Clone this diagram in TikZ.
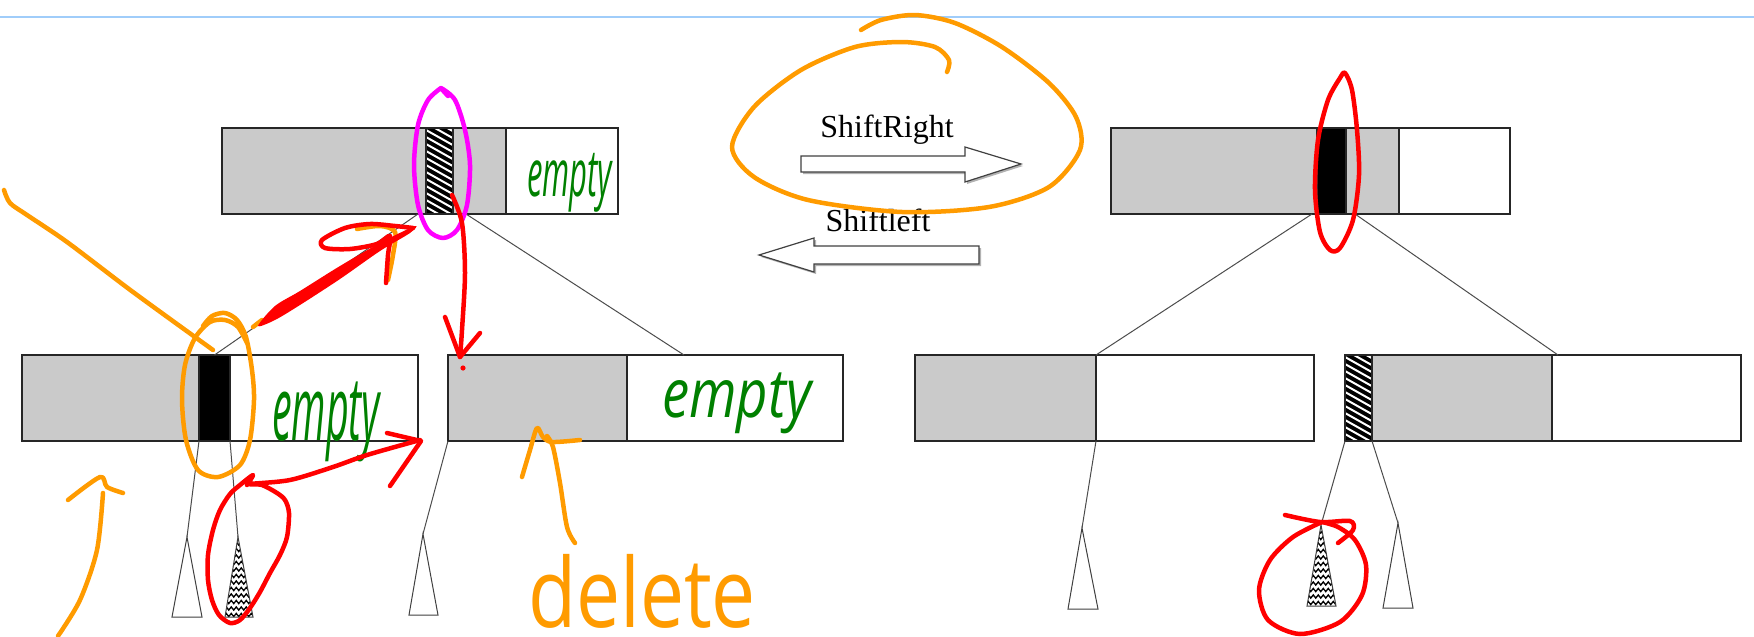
\documentclass[tikz,border=0pt]{standalone}
\usepackage{fontspec}
\usepackage{graphicx}
\usetikzlibrary{decorations.pathmorphing}
\newfontfamily\serifT{Liberation Serif}
\newfontfamily\hand{Open Sans}
\definecolor{boxgray}{RGB}{202,202,202}
\definecolor{inkorange}{RGB}{255,155,0}
\definecolor{inkred}{RGB}{255,0,0}
\definecolor{inkmag}{RGB}{255,0,255}
\definecolor{inkgreen}{RGB}{0,128,0}
\definecolor{rulerblue}{RGB}{160,205,250}
\begin{document}
\begin{tikzpicture}[x=1pt,y=-1pt,
  cell/.style={draw=black!85, line width=1.4pt, inner sep=0pt, outer sep=0pt, anchor=north west, minimum height=86pt},
  gcell/.style={cell, fill=boxgray},
  wcell/.style={cell, fill=white},
  kcell/.style={cell, fill=black},
  hcell/.style={cell, fill=black, path picture={
      \foreach \k in {0,...,22}{\draw[white, line width=2pt] ([yshift={40pt-\k*7pt}]path picture bounding box.north west) -- ++(32pt,-18pt);}}},
  edge/.style={draw=black!70, line width=1pt},
  tri/.style={draw=black!75, line width=1pt, fill=white},
  htri/.style={tri, path picture={
      \foreach \k in {0,...,13}{\draw[black, line width=1.3pt, decorate, decoration={zigzag, segment length=5pt, amplitude=1.6pt}] ([yshift={-\k*6.5pt}]path picture bounding box.north west) -- ++(40pt,0pt);}}},
  blockarrow/.style={fill=white, draw=black!75, line width=1.2pt},
  ink/.style={line width=4.5pt, line cap=round, line join=round},
  handtext/.style={inner sep=0pt, outer sep=0pt, anchor=north west},
  lbl/.style={font=\serifT\fontsize{32}{36}\selectfont, anchor=base, inner sep=0pt}
]
\useasboundingbox (0,0) rectangle (1754,637);
\draw[rulerblue, line width=2pt] (0,17) -- (1754,17);

% ---------- left top node ----------
\node[gcell, minimum width=204pt] (tlA) at (222,128) {};
\node[hcell, minimum width=27pt] (tlB) at (426,128) {};
\node[gcell, minimum width=53pt] (tlC) at (453,128) {};
\node[wcell, minimum width=112pt] (tlD) at (506,128) {};
% ---------- right top node ----------
\node[gcell, minimum width=206pt] (trA) at (1111,128) {};
\node[kcell, minimum width=29pt] (trB) at (1317,128) {};
\node[gcell, minimum width=53pt] (trC) at (1346,128) {};
\node[wcell, minimum width=111pt] (trD) at (1399,128) {};
% ---------- lower nodes ----------
\node[gcell, minimum width=177pt] (b1A) at (22,355) {};
\node[kcell, minimum width=31pt] (b1B) at (199,355) {};
\node[wcell, minimum width=188pt] (b1C) at (230,355) {};
\node[gcell, minimum width=179pt] (b2A) at (448,355) {};
\node[wcell, minimum width=216pt] (b2B) at (627,355) {};
\node[gcell, minimum width=181pt] (b3A) at (915,355) {};
\node[wcell, minimum width=218pt] (b3B) at (1096,355) {};
\node[hcell, minimum width=27pt] (b4A) at (1345,355) {};
\node[gcell, minimum width=180pt] (b4B) at (1372,355) {};
\node[wcell, minimum width=189pt] (b4C) at (1552,355) {};

% ---------- tree edges ----------
\draw[edge] ([xshift=-8pt]tlB.south west) -- (b1B.north);
\draw[edge] ([xshift=13pt]tlC.south west) -- ([xshift=57pt]b2B.north west);
\draw[edge] ([xshift=-5pt]trB.south west) -- (b3B.north west);
\draw[edge] ([xshift=9pt]trC.south west) -- ([xshift=6pt]b4C.north west);

% ---------- subtrees ----------
\coordinate (t1a) at (187,537); \coordinate (t1l) at (172,617); \coordinate (t1r) at (202,617);
\coordinate (t2a) at (238,537); \coordinate (t2l) at (225,617); \coordinate (t2r) at (253,617);
\coordinate (t3a) at (423,534); \coordinate (t3l) at (409,615); \coordinate (t3r) at (438,615);
\coordinate (t4a) at (1082,528); \coordinate (t4l) at (1068,609); \coordinate (t4r) at (1098,609);
\coordinate (t5a) at (1321,525); \coordinate (t5l) at (1307,606); \coordinate (t5r) at (1336,606);
\coordinate (t6a) at (1398,523); \coordinate (t6l) at (1383,608); \coordinate (t6r) at (1413,608);
\draw[edge] (b1B.south west) -- (t1a);
\draw[edge] (b1B.south east) -- (t2a);
\draw[edge] (b2A.south west) -- (t3a);
\draw[edge] (b3B.south west) -- (t4a);
\draw[edge] (b4A.south west) -- (t5a);
\draw[edge] (b4A.south east) -- (t6a);
\draw[tri] (t1a) -- (t1l) -- (t1r) -- cycle;
\draw[htri] (t2a) -- (t2l) -- (t2r) -- cycle;
\draw[tri] (t3a) -- (t3l) -- (t3r) -- cycle;
\draw[tri] (t4a) -- (t4l) -- (t4r) -- cycle;
\draw[htri] (t5a) -- (t5l) -- (t5r) -- cycle;
\draw[tri] (t6a) -- (t6l) -- (t6r) -- cycle;

% ---------- shift arrows ----------
\fill[black!30] (803,158) -- (967,158) -- (967,149) -- (1023,166) -- (967,184) -- (967,174) -- (803,174) -- cycle;
\draw[blockarrow] (801,156) -- (965,156) -- (965,147) -- (1021,164) -- (965,182) -- (965,172) -- (801,172) -- cycle;
\fill[black!30] (981,248) -- (816,248) -- (816,240) -- (761,257) -- (816,274) -- (816,266) -- (981,266) -- cycle;
\draw[blockarrow] (979,246) -- (814,246) -- (814,238) -- (759,255) -- (814,272) -- (814,264) -- (979,264) -- cycle;
\node[lbl] (sr) at (887,137) {ShiftRight};
\node[lbl] (sl) at (878,231) {Shiftleft};

% ---------- handwritten texts ----------
\node[handtext, text=inkgreen] (e1) at (527,153) {\resizebox*{85pt}{59pt}{\hand\itshape empty}};
\node[handtext, text=inkgreen] (e2) at (272,382) {\resizebox*{108pt}{80pt}{\hand\itshape empty}};
\node[handtext, text=inkgreen] (e3) at (662,373) {\resizebox*{149pt}{61pt}{\hand\itshape empty}};
\node[handtext, text=inkorange] (del) at (528,554) {\resizebox*{228pt}{74pt}{\hand delete}};

% ---------- orange annotations ----------
\draw[ink, inkorange] plot[smooth] coordinates {(947,72) (949,60) (935,47) (902,42) (855,47) (801,70) (754,107) (732,147) (754,177) (808,200) (902,212) (989,207) (1049,187) (1080,150) (1076,117) (1049,83) (1002,47) (955,23) (915,15) (881,20) (861,30)};
\draw[ink, inkorange] plot[smooth] coordinates {(4,190) (10,203) (27,215) (67,242) (133,292) (213,350)};
\draw[ink, inkorange] plot[smooth] coordinates {(203,326) (212,316) (225,313) (237,320) (246,337) (252,370) (254,400) (250,440) (240,465) (218,477) (198,470) (186,440) (182,400) (185,365) (195,338) (210,322) (225,320) (238,327) (248,345)};
\draw[ink, inkorange] plot[smooth] coordinates {(58,636) (80,600) (97,550) (103,493)};
\draw[ink, inkorange] plot[smooth] coordinates {(68,500) (100,477) (107,487) (123,493)};
\draw[ink, inkorange] plot[smooth] coordinates {(575,543) (567,527) (560,483) (553,447) (547,436)};
\draw[ink, inkorange] plot[smooth] coordinates {(522,477) (530,450) (537,428) (543,437) (552,442) (580,440)};
\draw[ink, inkorange] plot[smooth] coordinates {(357,229) (380,226) (395,232) (393,255) (388,280)};
\draw[ink, inkorange] (253,327) -- (262,320);

% ---------- magenta ----------
\draw[ink, inkmag] plot[smooth] coordinates {(448,96) (441,88) (455,100) (465,130) (470,165) (467,205) (457,230) (443,238) (428,230) (418,205) (414,165) (418,125) (428,100) (441,88)};

% ---------- red annotations ----------
\fill[inkred] plot[smooth cycle] coordinates {(258,326) (275,306) (300,291) (340,266) (380,243) (415,226) (410,233) (380,251) (340,279) (300,305) (275,320)};
\draw[ink, inkred] plot[smooth] coordinates {(413,228) (395,226) (370,224) (345,228) (322,240) (325,248) (350,249) (377,244) (390,236) (388,255) (386,283)};
\draw[ink, inkred] plot[smooth] coordinates {(452,195) (462,223) (465,273) (462,330) (460,357)};
\draw[ink, inkred] (445,317) -- (460,357) -- (480,333);
\fill[inkred] (463,368) circle (2.6);
\draw[ink, inkred] plot[smooth] coordinates {(247,485) (253,475) (240,485) (230,494) (220,510) (213,530) (208,555) (208,580) (212,600) (219,615) (230,623) (240,620) (250,608) (260,592) (270,573) (280,555) (287,537) (289,513) (285,500) (277,493) (262,485) (250,484) (290,480) (333,467) (367,455) (420,440)};
\draw[ink, inkred] (387,433) -- (421,441) -- (390,486);
\draw[ink, inkred] plot[smooth cycle] coordinates {(1345,73) (1352,90) (1357,130) (1359,175) (1353,220) (1340,248) (1330,250) (1320,232) (1315,190) (1318,140) (1328,100) (1340,78)};
\draw[ink, inkred] plot[smooth] coordinates {(1285,515) (1320,522) (1350,521) (1353,530) (1338,543)};
\draw[ink, inkred] plot[smooth] coordinates {(1322,522) (1293,537) (1270,560) (1259,590) (1268,620) (1300,634) (1340,622) (1362,595) (1366,565) (1355,540) (1338,527) (1322,522)};
\end{tikzpicture}
\end{document}
